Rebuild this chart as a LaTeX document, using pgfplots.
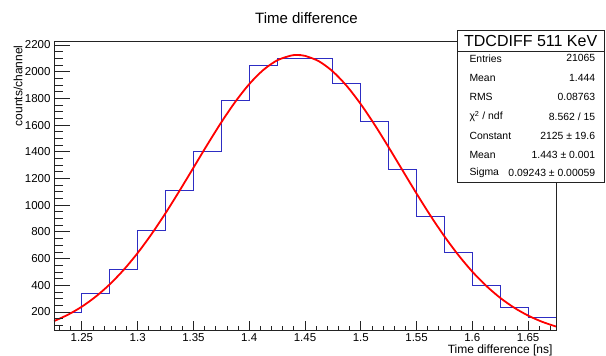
\documentclass[border=0pt]{standalone}
\usepackage{fontspec}
\setmainfont{Liberation Sans}
\usepackage{pgfplots}
\pgfplotsset{compat=1.18}
\definecolor{histblue}{RGB}{45,45,195}
\definecolor{framegray}{RGB}{35,35,35}

\begin{document}
\begin{tikzpicture}[x=1pt,y=1pt]
\useasboundingbox (0,0) rectangle (606,356);
\pgfplotsset{
  myaxis/.style={
    at={(54pt,26pt)}, anchor=south west,
    width=502pt, height=288.3pt, scale only axis,
    xmin=1.225, xmax=1.675, ymin=65, ymax=2225,
    axis line style={framegray, line width=0.8pt},
    tick style={framegray, line width=0.8pt},
    tick align=inside,
    /pgf/number format/assume math mode=true,
    tick label style={font=\fontsize{11.5}{13}\selectfont},
  }
}
\begin{axis}[myaxis,
  xtick pos=bottom,
  ytick=\empty,
  xtick={1.25,1.3,1.35,1.4,1.45,1.5,1.55,1.6,1.65},
  xticklabels={1.25,1.3,1.35,1.4,1.45,1.5,1.55,1.6,1.65},
  minor xtick={1.23,1.24,1.25,1.26,1.27,1.28,1.29,1.30,1.31,1.32,1.33,1.34,1.35,1.36,1.37,1.38,1.39,1.40,1.41,1.42,1.43,1.44,1.45,1.46,1.47,1.48,1.49,1.50,1.51,1.52,1.53,1.54,1.55,1.56,1.57,1.58,1.59,1.60,1.61,1.62,1.63,1.64,1.65,1.66,1.67},
  major tick length=8.5pt,
  minor tick length=4.3pt,
]
\addplot[const plot, histblue, line width=1pt] coordinates {
(1.225,195) (1.25,335) (1.275,518) (1.3,813) (1.325,1108) (1.35,1405)
(1.375,1783) (1.4,2048) (1.425,2100) (1.45,2100) (1.475,1910) (1.5,1630)
(1.525,1265) (1.55,912) (1.575,648) (1.6,397) (1.625,230) (1.65,155) (1.675,155)
};
\addplot[red, line width=1.8pt, smooth] coordinates {
(1.225,131.6) (1.2375,179.5) (1.25,240.2) (1.2625,315.7) (1.275,407.4) (1.2875,516.1)
(1.3,642.1) (1.3125,784.3) (1.325,940.7) (1.3375,1107.8) (1.35,1281.0) (1.3625,1454.3)
(1.375,1621.2) (1.3875,1774.5) (1.4,1907.1) (1.4125,2012.4) (1.425,2085.1) (1.4375,2121.2)
(1.443,2125) (1.45,2118.9) (1.4625,2078.2) (1.475,2001.4) (1.4875,1892.5) (1.5,1757.0)
(1.5125,1601.8) (1.525,1433.7) (1.5375,1260.0) (1.55,1087.3) (1.5625,921.3) (1.575,766.4)
(1.5875,626.1) (1.6,502.1) (1.6125,395.4) (1.625,305.8) (1.6375,232.2) (1.65,173.0)
(1.6625,126.7) (1.675,91.0)
};
\end{axis}
\begin{axis}[myaxis,
  xtick=\empty,
  ytick pos=left,
  ytick={200,400,600,800,1000,1200,1400,1600,1800,2000,2200},
  yticklabels={200,400,600,800,1000,1200,1400,1600,1800,2000,2200},
  minor ytick={100,150,200,250,300,350,400,450,500,550,600,650,700,750,800,850,900,950,1000,1050,1100,1150,1200,1250,1300,1350,1400,1450,1500,1550,1600,1650,1700,1750,1800,1850,1900,1950,2000,2050,2100,2150,2200},
  major tick length=15.5pt,
  minor tick length=8.5pt,
]
\end{axis}
% titles
\node[anchor=base, font=\fontsize{15}{18}\selectfont] at (306.5,332) {Time difference};
\node[rotate=90, anchor=east, font=\fontsize{12}{14}\selectfont] at (18,314) {counts/channel};
\node[anchor=east, font=\fontsize{12}{14}\selectfont] at (556,5.5) {Time difference [ns]};
% stats box
\draw[framegray, line width=0.8pt, fill=white] (457,173.3) rectangle (604.5,326);
\draw[framegray, line width=0.8pt] (457,304.3) -- (604.5,304.3);
\node[font=\fontsize{16}{18}\selectfont] at (530.7,315.3) {TDCDIFF 511 KeV};
\begin{scope}[every node/.style={font=\fontsize{10.4}{12}\selectfont}]
\node[anchor=west] at (466,297.7) {Entries};
\node[anchor=east] at (598.7,297.7) {21065};
\node[anchor=west] at (466,277.7) {Mean};
\node[anchor=east] at (598.7,277.7) {1.444};
\node[anchor=west] at (466,258.7) {RMS};
\node[anchor=east] at (598.7,258.7) {0.08763};
\node[anchor=west] at (466,239.3) {χ\textsuperscript{2} / ndf};
\node[anchor=east] at (598.7,239.3) {8.562 / 15};
\node[anchor=west] at (466,220) {Constant};
\node[anchor=east] at (598.7,220) {2125 ± 19.6};
\node[anchor=west] at (466,201) {Mean};
\node[anchor=east] at (598.7,201) {1.443 ± 0.001};
\node[anchor=west] at (466,182.7) {Sigma};
\node[anchor=east] at (598.7,182.7) {0.09243 ± 0.00059};
\end{scope}
\end{tikzpicture}
\end{document}
